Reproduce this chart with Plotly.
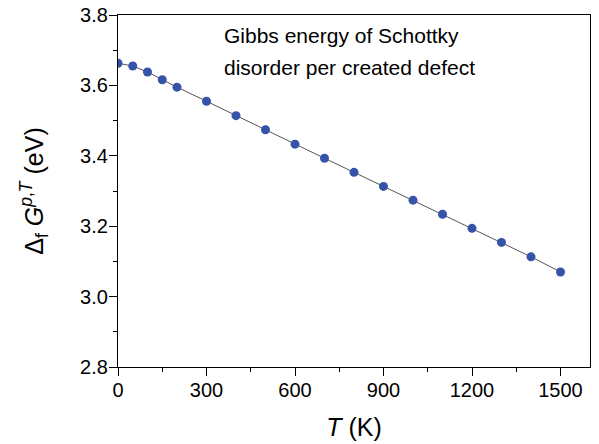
import plotly.graph_objects as go

# Température (K) et énergie de Gibbs par défaut créé (eV)
temperature = [0, 50, 100, 150, 200, 300, 400, 500, 600, 700, 800,
               900, 1000, 1100, 1200, 1300, 1400, 1500]
gibbs_energy = [3.663, 3.655, 3.638, 3.616, 3.595, 3.555, 3.514, 3.474,
                3.433, 3.393, 3.353, 3.313, 3.274, 3.234, 3.194, 3.154,
                3.113, 3.070]
x_ticks = [0, 300, 600, 900, 1200, 1500]
y_ticks = [2.8, 3.0, 3.2, 3.4, 3.6, 3.8]
note_lines = ["Gibbs energy of Schottky", "disorder per created defect"]

font = "Liberation Sans, Arial, sans-serif"

fig = go.Figure(go.Scatter(
    x=temperature, y=gibbs_energy, mode="lines+markers",
    line=dict(color="#555555", width=1),
    marker=dict(color="#3553a8", size=9),
    showlegend=False))

axis_style = dict(showline=True, linecolor="black", linewidth=1.3,
                  mirror=True, ticks="outside", ticklen=8, tickwidth=1.3,
                  tickcolor="black", showgrid=False, zeroline=False,
                  automargin=False, ticklabelstandoff=-3,
                  tickfont=dict(size=20, family=font, color="black"))

fig.update_xaxes(range=[0, 1600], tickvals=x_ticks,
                 minor=dict(ticks="outside", ticklen=4, tickwidth=1.3,
                            tickcolor="black", dtick=150, tick0=0),
                 title=dict(text="<i>T</i> (K)", standoff=18,
                            font=dict(size=25, family=font, color="black")),
                 **axis_style)
fig.update_yaxes(range=[2.8, 3.8], tickvals=y_ticks,
                 tickformat=".1f",
                 minor=dict(ticks="outside", ticklen=4, tickwidth=1.3,
                            tickcolor="black", dtick=0.1, tick0=2.8),
                 title=dict(text="Δ<sub>f</sub> <i>G</i><sup><i>p</i>,<i>T</i></sup> (eV)",
                            standoff=29,
                            font=dict(size=25, family=font, color="black")),
                 **axis_style)

# Texte en deux lignes (interligne plus large que celui de plotly)
for line, y in zip(note_lines, [0.98, 0.889]):
    fig.add_annotation(x=0.22, y=y, xref="paper", yref="paper",
                       xanchor="left", yanchor="top", showarrow=False,
                       text=line,
                       font=dict(size=21, family=font, color="black"))

fig.update_layout(width=599, height=444, plot_bgcolor="white",
                  paper_bgcolor="white",
                  margin=dict(l=118, r=9, t=15, b=77))

# Suppression de la marge par défaut de la page et de la barre d'outils
fig.write_html("out.html", config={"displayModeBar": False},
               post_script="document.body.style.margin = '0';")
